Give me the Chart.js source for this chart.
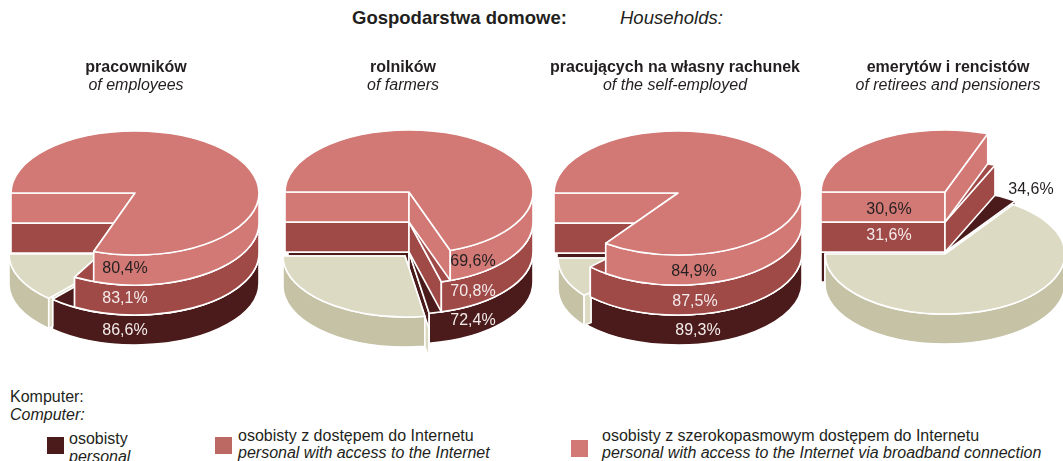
<!DOCTYPE html>
<html lang="pl">
<head>
<meta charset="utf-8">
<title>Gospodarstwa domowe</title>
<script src="https://cdn.jsdelivr.net/npm/chart.js@4"></script>
<style>
    html, body { margin: 0; padding: 0; background: #fff; overflow: hidden; }
    body { width: 1063px; height: 461px; position: relative; font-family: "Liberation Sans", Arial, sans-serif; color: #231f20; }
    canvas { position: absolute; }
    .t { position: absolute; white-space: nowrap; line-height: 18px; }
    .c { transform: translateX(-50%); }
    .b { font-weight: bold; }
    .i { font-style: italic; }
    .s { font-size: 16px; }
    .box { position: absolute; width: 17px; height: 17px; }
</style>
</head>
<body>
<div class="t b" style="left:352px;top:9px;font-size:18.5px">Gospodarstwa domowe:</div>
<div class="t i" style="left:620px;top:9px;font-size:18.5px">Households:</div>
<div id="heads"></div>

<div class="t s" style="left:10px;top:388px">Komputer:</div>
<div class="t s i" style="left:10px;top:406px">Computer:</div>
<div class="box" style="left:47px;top:437px;background:#4a1b1a"></div>
<div class="t s" style="left:69px;top:430px">osobisty</div>
<div class="t s i" style="left:69px;top:448px">personal</div>
<div class="box" style="left:215px;top:437px;background:#bc6863"></div>
<div class="t s" style="left:238px;top:427px">osobisty z dostępem do Internetu</div>
<div class="t s i" style="left:238px;top:444px">personal with access to the Internet</div>
<div class="box" style="left:571px;top:440px;background:#d27975"></div>
<div class="t s" style="left:602px;top:427px">osobisty z szerokopasmowym dostępem do Internetu</div>
<div class="t s i" style="left:602px;top:444px">personal with access to the Internet via broadband connection</div>

<script>
const groups = ['pracowników', 'rolników', 'pracujących na własny rachunek', 'emerytów i rencistów'];
const groupsEn = ['of employees', 'of farmers', 'of the self-employed', 'of retirees and pensioners'];
const personal = [86.6, 72.4, 89.3, 34.6];
const withInternet = [83.1, 70.8, 87.5, 31.6];
const withBroadband = [80.4, 69.6, 84.9, 30.6];

const LIGHT = '#d27975', MID = '#a04a48', DARK = '#4a1b1a', BEIGE = '#dddac4', BEIGE_SIDE = '#c5c2a6';
const INK = '#231f20', PALE = '#f3eaea';
const LAYER_H = 30;

// where each pie sits on the page, how far the beige slice was pulled out and where the labels go
const pies = [
    { cx: 135, top: 193, headX: 136, trim: 0, beige: { dx: -7, dy: 1, r: 119, strip: 4 }, spots: [[125, 331, PALE], [125, 299, PALE], [125, 269, INK]] },
    { cx: 409, top: 192, headX: 403, trim: 3, beige: { dx: -4, dy: 4, r: 122, strip: 4 }, spots: [[473, 321, PALE], [473, 292, PALE], [473, 262, INK]] },
    { cx: 678, top: 193, headX: 675, trim: 3, beige: { dx: 0, dy: 5, r: 120, strip: 7 }, spots: [[698, 331, PALE], [695, 302, PALE], [694, 272, INK]] },
    { cx: 945, top: 192, headX: 948, trim: 0, beige: { dx: 0, dy: 2, r: 120, strip: 0 }, spots: [[1031, 190, INK], [889, 236, PALE], [889, 210, INK]] }
];

function percent(v) {
    return v.toFixed(1).replace('.', ',') + '%';
}

function wallPath(ctx, arc, angle, z, trim) {
    const y = arc.midY + z;
    const px = arc.x + Math.cos(angle) * arc.outerRadius + trim;
    const py = y + Math.sin(angle) * arc.outerRadius / 2;
    ctx.beginPath();
    ctx.moveTo(arc.x, y);
    ctx.lineTo(px, py);
    ctx.lineTo(px, py + LAYER_H);
    ctx.lineTo(arc.x, y + LAYER_H);
    ctx.closePath();
}

// the outer skin of a slice, only the part that turns towards the viewer
function frontParts(arc) {
    const parts = [];
    [-2 * Math.PI, 0, 2 * Math.PI].forEach(k => {
        const lo = Math.max(arc.startAngle, k);
        const hi = Math.min(arc.endAngle, k + Math.PI);
        if (lo < hi) parts.push([lo, hi]);
    });
    return parts;
}

function paintLayer(ctx, meta, z, cy, opts, isBottom) {
    const arcs = meta.data.filter(a => a.options.backgroundColor !== 'transparent');

    arcs.forEach(arc => {
        ctx.fillStyle = arc.options.backgroundColor;
        wallPath(ctx, arc, arc.startAngle, z, isBottom && arc.options.backgroundColor === DARK ? opts.trim : 0);
        ctx.fill();
        ctx.stroke();
        wallPath(ctx, arc, arc.endAngle, z, 0);
        ctx.fill();
        ctx.stroke();
    });

    arcs.forEach(arc => {
        const y = arc.midY + z;
        const ry = arc.outerRadius / 2;
        ctx.fillStyle = arc.options.backgroundColor === BEIGE ? BEIGE_SIDE : arc.options.backgroundColor;
        frontParts(arc).forEach(([lo, hi]) => {
            ctx.beginPath();
            ctx.ellipse(arc.x, y, arc.outerRadius, ry, 0, lo, hi);
            ctx.ellipse(arc.x, y + LAYER_H, arc.outerRadius, ry, 0, hi, lo, true);
            ctx.closePath();
            ctx.fill();
            ctx.stroke();
        });
    });

    arcs.forEach(arc => {
        // the library fills the slice, squashed flat
        ctx.save();
        ctx.translate(0, cy + z);
        ctx.scale(1, 0.5);
        ctx.translate(0, -cy);
        arc.y = cy + (arc.midY - cy) * 2;
        arc.draw(ctx);
        ctx.restore();

        const y = arc.midY + z;
        ctx.beginPath();
        ctx.moveTo(arc.x, y);
        ctx.ellipse(arc.x, y, arc.outerRadius, arc.outerRadius / 2, 0, arc.startAngle, arc.endAngle);
        ctx.closePath();
        ctx.stroke();
    });

    // cut face of the pulled out slice, seen past the tip of the dark one
    if (isBottom && opts.beige.strip) {
        const arc = arcs[1];
        const px = arc.x + Math.cos(arc.startAngle) * arc.outerRadius;
        const py = arc.midY + z + Math.sin(arc.startAngle) * arc.outerRadius / 2;
        const w = opts.beige.strip;
        const rise = w * (py - arc.midY - z) / (arc.x - px);
        ctx.beginPath();
        ctx.moveTo(px, py);
        ctx.lineTo(px + w, py - rise);
        ctx.lineTo(px + w, py - rise + LAYER_H);
        ctx.lineTo(px, py + LAYER_H);
        ctx.closePath();
        ctx.fillStyle = BEIGE;
        ctx.fill();
        ctx.stroke();
    }
}

const pie3d = {
    id: 'pie3d',
    afterDatasetsUpdate(chart, args, opts) {
        const area = chart.chartArea;
        const cy = (area.top + area.bottom) / 2;
        chart.data.datasets.forEach((ds, i) => {
            chart.getDatasetMeta(i).data.forEach((arc, j) => {
                arc.outerRadius = area.width / 2;
                arc.innerRadius = 0;
                arc.midY = cy;
                if (i === 0 && j === 1) {
                    arc.x += opts.beige.dx;
                    arc.midY = cy + opts.beige.dy;
                    arc.outerRadius = opts.beige.r;
                }
            });
        });
    },
    beforeDatasetsDraw(chart, args, opts) {
        const ctx = chart.ctx;
        const area = chart.chartArea;
        const cy = (area.top + area.bottom) / 2;
        ctx.save();
        ctx.strokeStyle = '#fff';
        ctx.lineWidth = 1.6;
        ctx.lineJoin = 'round';
        chart.data.datasets.forEach((ds, i) => {
            paintLayer(ctx, chart.getDatasetMeta(i), (2 - i) * LAYER_H, cy, opts, i === 0);
        });
        ctx.restore();
        return false;
    },
    afterDraw(chart, args, opts) {
        const ctx = chart.ctx;
        ctx.save();
        ctx.font = '16px "Liberation Sans", Arial, sans-serif';
        ctx.textAlign = 'center';
        ctx.textBaseline = 'middle';
        chart.data.datasets.forEach((ds, i) => {
            const spot = opts.spots[i];
            ctx.fillStyle = spot[2];
            ctx.fillText(percent(ds.data[0]), spot[0] - opts.left, spot[1] - opts.topEdge);
        });
        ctx.restore();
    }
};

const heads = document.getElementById('heads');

pies.forEach((pie, n) => {
    heads.insertAdjacentHTML('beforeend',
        '<div class="t c s b" style="left:' + pie.headX + 'px;top:58px">' + groups[n] + '</div>' +
        '<div class="t c s i" style="left:' + pie.headX + 'px;top:76px">' + groupsEn[n] + '</div>');

    const left = pie.cx - 135;
    const topEdge = pie.top - 160;
    const cv = document.createElement('canvas');
    cv.width = 270;
    cv.height = 320;
    cv.style.left = left + 'px';
    cv.style.top = topEdge + 'px';
    document.body.insertBefore(cv, heads);

    new Chart(cv.getContext('2d'), {
        type: 'pie',
        plugins: [pie3d],
        data: {
            labels: ['komputer', 'reszta'],
            datasets: [
                { data: [personal[n], 100 - personal[n]], backgroundColor: [DARK, BEIGE], borderWidth: 0 },
                { data: [withInternet[n], 100 - withInternet[n]], backgroundColor: [MID, 'transparent'], borderWidth: 0 },
                { data: [withBroadband[n], 100 - withBroadband[n]], backgroundColor: [LIGHT, 'transparent'], borderWidth: 0 }
            ]
        },
        options: {
            responsive: false,
            animation: false,
            rotation: -90,
            layout: { padding: { left: 11, right: 11, top: 36, bottom: 36 } },
            plugins: {
                legend: { display: false },
                tooltip: { enabled: false },
                pie3d: { beige: pie.beige, trim: pie.trim, spots: pie.spots, left: left, topEdge: topEdge }
            }
        }
    });
});
</script>
</body>
</html>
